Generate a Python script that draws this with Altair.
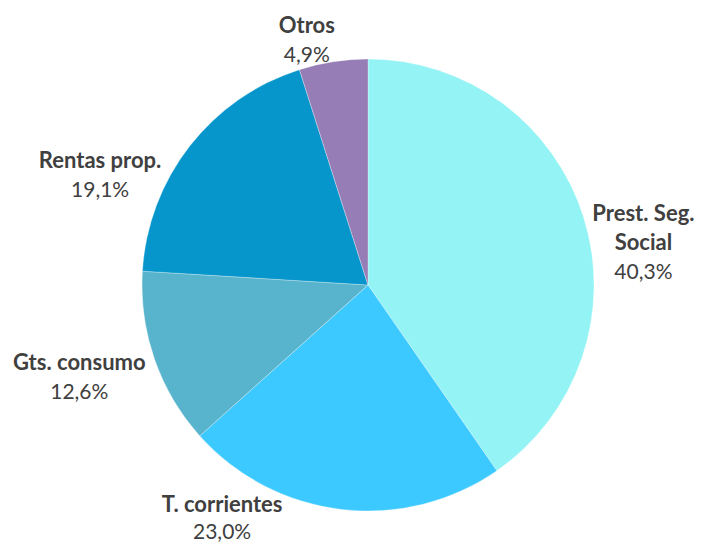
import altair as alt
import pandas as pd

# ---- data ----
categories = ["Prest. Seg. Social", "T. corrientes", "Gts. consumo", "Rentas prop.", "Otros"]
name_labels = ["Prest. Seg.\nSocial", "T. corrientes", "Gts. consumo", "Rentas prop.", "Otros"]
values = [40.3, 23.0, 12.6, 19.1, 4.9]
pct_labels = ["40,3%", "23,0%", "12,6%", "19,1%", "4,9%"]
colors = ["#94F3F4", "#3CC9FF", "#58B4CC", "#0696CC", "#967DB5"]

df = pd.DataFrame({
    "idx": list(range(len(categories))),
    "category": categories,
    "name": name_labels,
    "value": values,
    "pct": pct_labels,
})

# ---- layout ----
W, H = 686, 535
CX, CY = 360, 277
R = 226
LR = 275
TEXT_COLOR = "#404040"
FONT = "Lato"
FS_NAME = 22
FS_PCT = 21
LINE = 29

# per-label nudges: (dx, dy) from the mid-angle anchor to the first-line baseline,
# number of name lines, gap to the percentage line
nudges = {
    "Prest. Seg. Social": (13, 18, 2, LINE),
    "T. corrientes": (-114, -46, 1, 27),
    "Gts. consumo": (-29, -5, 1, LINE),
    "Rentas prop.": (-51, 52, 1, LINE),
    "Otros": (-19, 20, 1, LINE),
}

base = alt.Chart(df)

pie = base.mark_arc(outerRadius=R, stroke="white", strokeWidth=0.3).encode(
    theta=alt.Theta("value:Q", stack=True),
    color=alt.Color("category:N", scale=alt.Scale(domain=categories, range=colors), legend=None),
    order=alt.Order("idx:Q"),
    x=alt.value(CX),
    y=alt.value(CY),
)

anch = (
    base.transform_joinaggregate(total="sum(value)")
    .transform_window(cum="sum(value)", sort=[alt.SortField("idx")], frame=[None, 0])
    .transform_calculate(mid="(datum.cum - datum.value/2) / datum.total * 2 * PI")
    .transform_calculate(
        lx=f"{CX} + {LR} * sin(datum.mid)",
        ly=f"{CY} - {LR} * cos(datum.mid)",
    )
)

layers = [pie]
for cat in categories:
    dx, dy, nlines, gap = nudges[cat]
    sub = anch.transform_filter(alt.datum.category == cat)
    enc = dict(
        x=alt.X("lx:Q", scale=None, axis=None),
        y=alt.Y("ly:Q", scale=None, axis=None),
    )
    layers.append(
        sub.mark_text(
            font=FONT, fontSize=FS_NAME, fontWeight="bold", color=TEXT_COLOR,
            align="center", baseline="alphabetic", lineBreak="\n", lineHeight=LINE,
            dx=dx, dy=dy,
        ).encode(text="name:N", **enc)
    )
    layers.append(
        sub.mark_text(
            font=FONT, fontSize=FS_PCT, color=TEXT_COLOR,
            align="center", baseline="alphabetic",
            dx=dx, dy=dy + LINE * (nlines - 1) + gap,
        ).encode(text="pct:N", **enc)
    )

chart = (
    alt.layer(*layers)
    .properties(width=W, height=H, padding=0, autosize="none", background="white")
    .configure_view(strokeWidth=0)
)

chart.save("out.html", embed_options={"renderer": "svg", "actions": False})
